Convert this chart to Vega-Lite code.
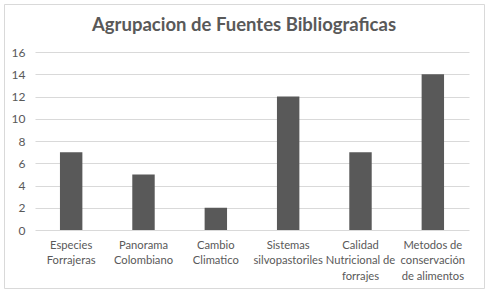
{
  "$schema": "https://vega.github.io/schema/vega-lite/v6.json",
  "autosize": "none",
  "width": 480,
  "height": 284,
  "padding": {"left": 4, "top": 4, "right": 6, "bottom": 8},
  "background": "white",
  "title": {
    "text": "Agrupacion de Fuentes Bibliograficas",
    "font": "Lato",
    "fontSize": 18.5,
    "fontWeight": "bold",
    "color": "#595959",
    "anchor": "middle",
    "baseline": "middle",
    "offset": -20,
    "dy": 19
  },
  "config": {
    "view": {"stroke": "#d9d9d9", "strokeWidth": 1},
    "axis": {"labelFont": "Lato", "labelColor": "#595959", "labelFontSize": 11.2}
  },
  "data": {
    "values": [
      {"categoria": "Especies Forrajeras", "valor": 7},
      {"categoria": "Panorama Colombiano", "valor": 5},
      {"categoria": "Cambio Climatico", "valor": 2},
      {"categoria": "Sistemas silvopastoriles", "valor": 12},
      {"categoria": "Calidad Nutricional de forrajes", "valor": 7},
      {"categoria": "Metodos de conservación de alimentos", "valor": 14}
    ]
  },
  "mark": {"type": "bar", "color": "#595959"},
  "encoding": {
    "x": {
      "field": "categoria",
      "type": "nominal",
      "sort": null,
      "scale": {"range": [31, 465], "paddingInner": 0.69, "paddingOuter": 0.345},
      "axis": {
        "title": null,
        "domain": false,
        "ticks": false,
        "labelAngle": 0,
        "labelPadding": 9,
        "labelLineHeight": 15.5,
        "offset": -58,
        "labelExpr": "{'Especies Forrajeras': ['Especies', 'Forrajeras'], 'Panorama Colombiano': ['Panorama', 'Colombiano'], 'Cambio Climatico': ['Cambio', 'Climatico'], 'Sistemas silvopastoriles': ['Sistemas', 'silvopastoriles'], 'Calidad Nutricional de forrajes': ['Calidad', 'Nutricional de', 'forrajes'], 'Metodos de conservación de alimentos': ['Metodos de', 'conservación', 'de alimentos']}[datum.value]"
      }
    },
    "y": {
      "field": "valor",
      "type": "quantitative",
      "scale": {"domain": [0, 16], "range": [226, 48], "nice": false},
      "axis": {
        "title": null,
        "values": [0, 2, 4, 6, 8, 10, 12, 14, 16],
        "domain": false,
        "ticks": false,
        "labelPadding": 0,
        "offset": -21,
        "labelFontSize": 12,
        "gridColor": "#d9d9d9",
        "gridWidth": 1
      }
    }
  }
}
